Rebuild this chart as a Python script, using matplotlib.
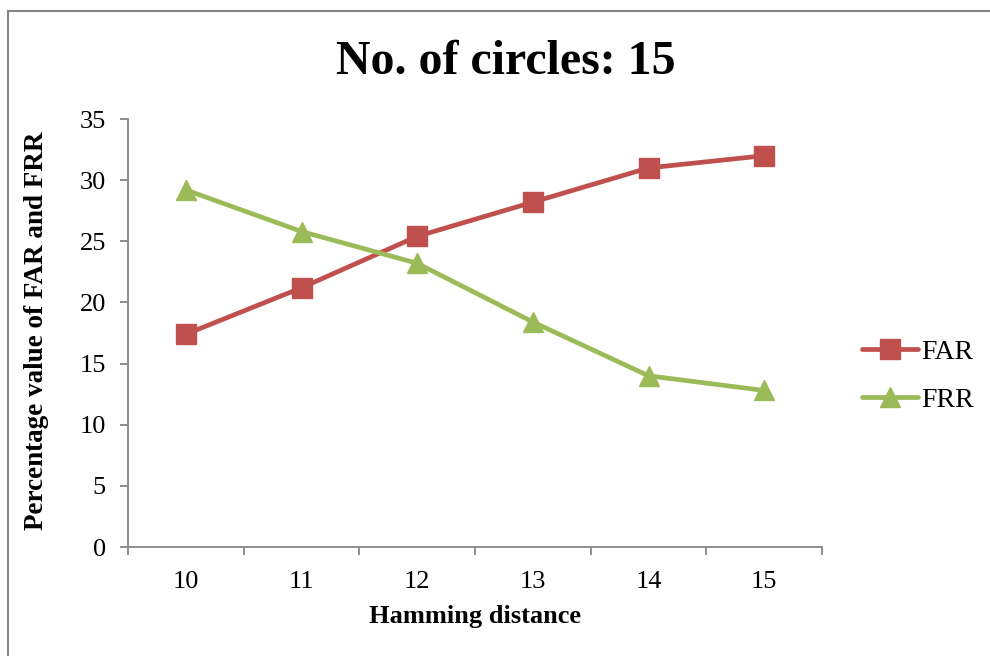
import matplotlib
matplotlib.use("Agg")
import matplotlib.pyplot as plt
from matplotlib.lines import Line2D

hamming = [10, 11, 12, 13, 14, 15]
far = [17.4, 21.2, 25.4, 28.2, 31.0, 32.0]
frr = [29.2, 25.8, 23.2, 18.4, 14.0, 12.8]
y_ticks = [0, 5, 10, 15, 20, 25, 30, 35]

plt.rcParams['font.family'] = ['Liberation Serif', 'DejaVu Serif']

fig = plt.figure(figsize=(9.9, 6.56), dpi=100)
ax = fig.add_axes([128/990, 1-547/656, (822-128)/990, (547-119)/656])

red = '#C0504D'
green = '#9BBB59'
ax.plot(hamming, far, color=red, lw=3.4, marker='s', ms=14.5, label='FAR', solid_capstyle='round')
ax.plot(hamming, frr, color=green, lw=3.4, marker='^', ms=15, label='FRR', solid_capstyle='round')

ax.set_xlim(9.5, 15.5)
ax.set_ylim(0, 35)
ax.set_yticks(y_ticks)
ax.set_xticks(hamming)
ax.set_xticks([9.5 + i for i in range(7)], minor=True)
ax.tick_params(axis='x', which='major', length=0, pad=17, labelsize=19)
ax.tick_params(axis='x', which='minor', length=6, width=1.3, color='#868686', direction='out')
ax.tick_params(axis='y', length=6, width=1.3, color='#868686', direction='out', labelsize=19, pad=10)
for s in ['top', 'right']:
    ax.spines[s].set_visible(False)
for s in ['left', 'bottom']:
    ax.spines[s].set_color('#868686')
    ax.spines[s].set_linewidth(1.3)

ax.set_xlabel('Hamming distance', fontsize=19, fontweight='bold')
ax.xaxis.set_label_coords(0.5, -(617-547)/428, transform=ax.transAxes)
ax.xaxis.label.set_va('center')
ax.set_ylabel('Percentage value of FAR and FRR', fontsize=19.5, fontweight='bold')
ax.yaxis.set_label_coords(-(128-37)/694, (547-331)/428, transform=ax.transAxes)
ax.yaxis.label.set_va('center')
fig.text(506/990, 1-62/656, 'No. of circles: 15', fontsize=34.5, fontweight='bold', ha='center', va='center')

leg = fig.legend(handles=ax.get_lines(), loc='center left', bbox_to_anchor=(862/990, 1-376/656),
                 frameon=False, fontsize=20, handlelength=2.0, handletextpad=0.12, labelspacing=0.8,
                 borderpad=0, borderaxespad=0)

# outer chart border (top and left visible)
fig.add_artist(Line2D([8/990, 8/990], [0, 1-11/656], transform=fig.transFigure, color='#868686', lw=1.5))
fig.add_artist(Line2D([8/990, 1], [1-11/656, 1-11/656], transform=fig.transFigure, color='#868686', lw=1.5))

fig.savefig('out.png', dpi=100)
